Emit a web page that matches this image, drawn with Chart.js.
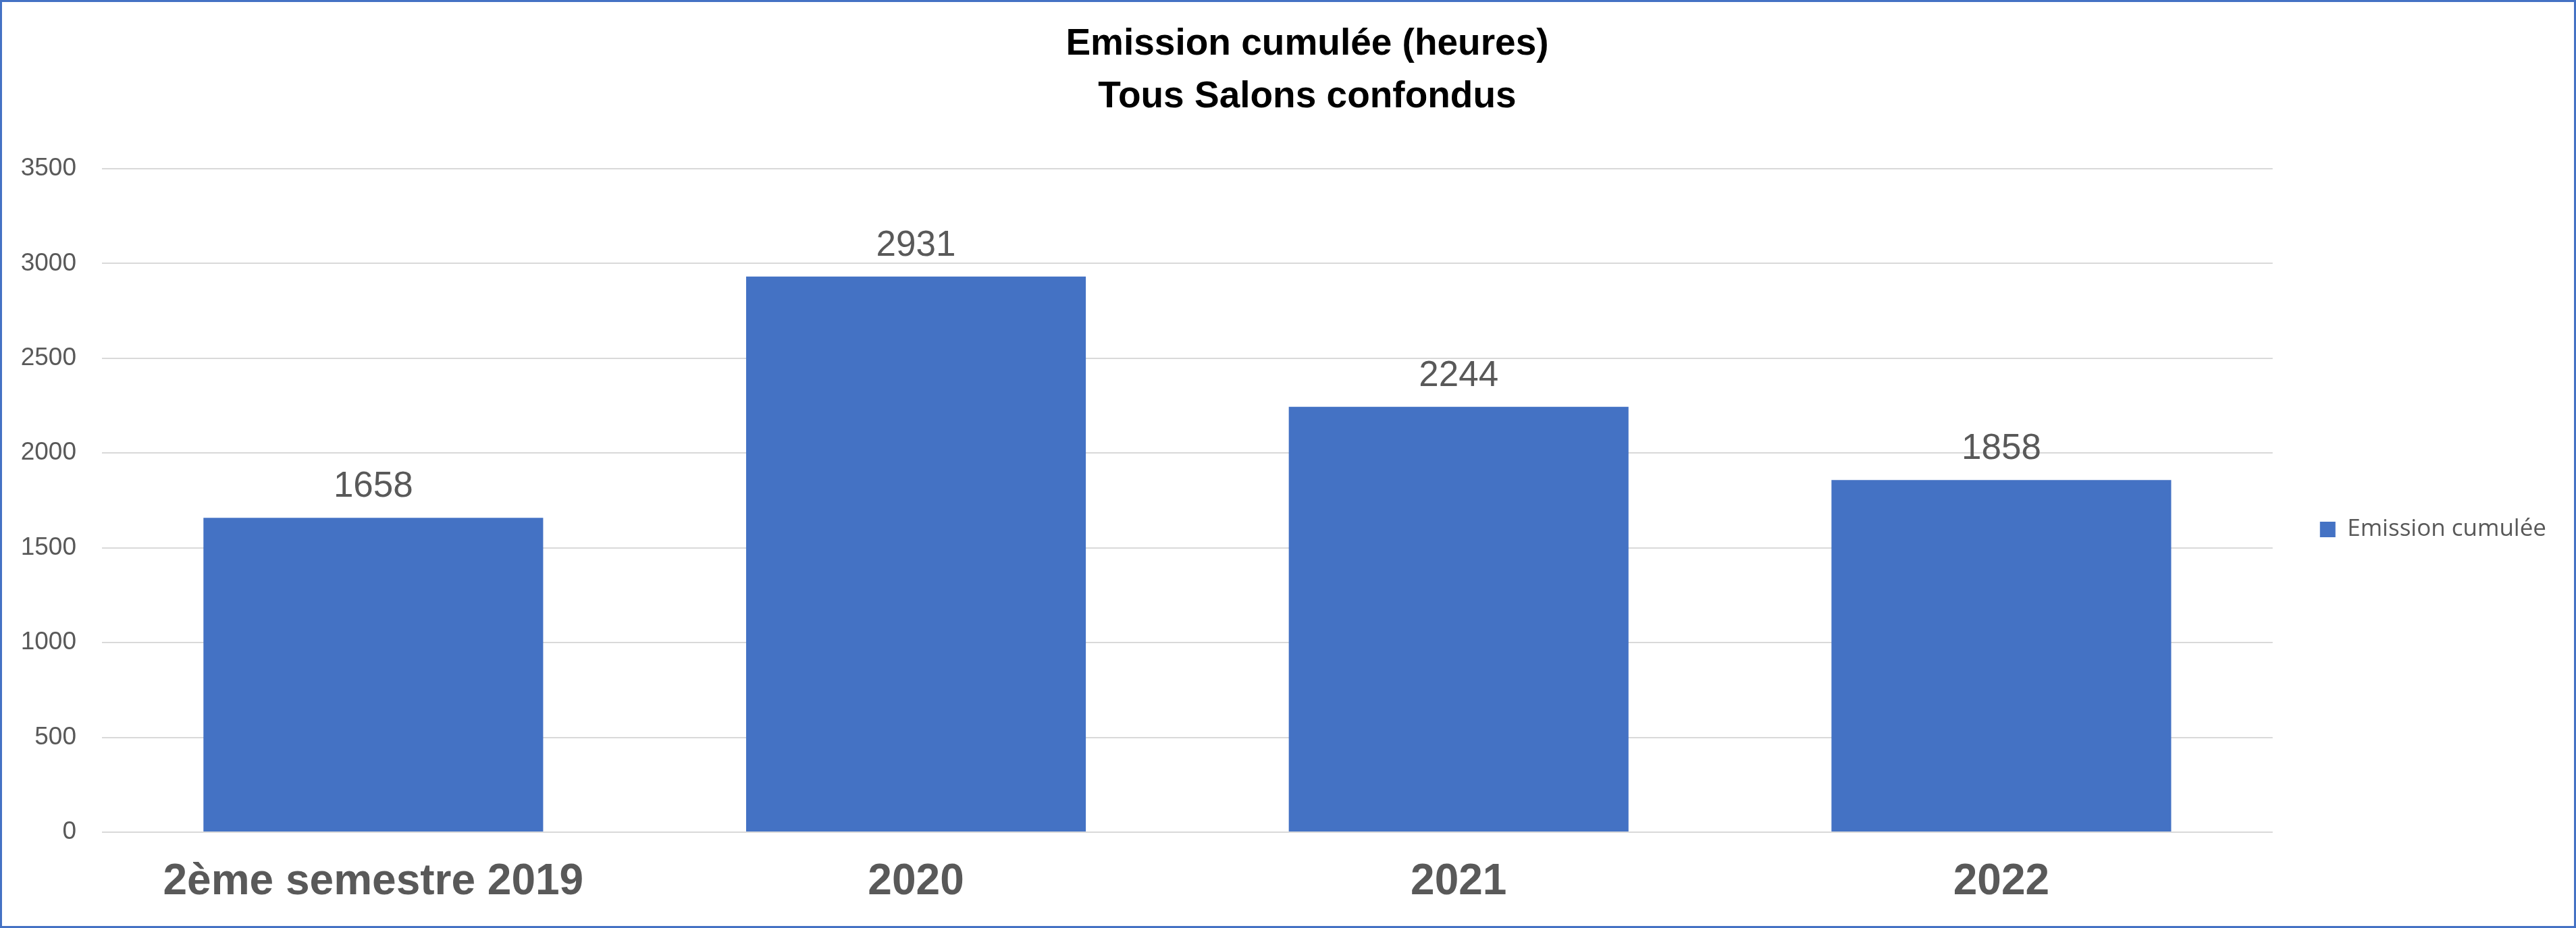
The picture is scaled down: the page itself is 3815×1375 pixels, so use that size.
<!DOCTYPE html>
<html>
<head>
<meta charset="utf-8">
<script src="https://cdn.jsdelivr.net/npm/chart.js@4/dist/chart.umd.min.js"></script>
<style>
  html, body { margin: 0; padding: 0; background: #ffffff; }
  #wrap { width: 3815px; height: 1375px; box-sizing: border-box; border: 3px solid #4472C4; background: #ffffff; }
  canvas { display: block; }
</style>
</head>
<body>
<div id="wrap"><canvas id="c" width="3809" height="1369"></canvas></div>
<script>
const categories = ['2ème semestre 2019', '2020', '2021', '2022'];
const emissionValues = [1658, 2931, 2244, 1858];
const seriesLabel = 'Emission cumulée';
const titleLines = ['Emission cumulée (heures)', 'Tous Salons confondus'];
const yTickMin = 0;
const yTickMax = 3500;
const yTickStep = 500;

const barLabels = {
  id: 'barLabels',
  afterDatasetsDraw(chart) {
    const ctx = chart.ctx;
    ctx.save();
    ctx.font = '53px "Liberation Sans", Arial, sans-serif';
    ctx.fillStyle = '#595959';
    ctx.textAlign = 'center';
    ctx.textBaseline = 'alphabetic';
    chart.data.datasets.forEach((ds, di) => {
      const meta = chart.getDatasetMeta(di);
      meta.data.forEach((el, i) => {
        ctx.fillText(String(ds.data[i]), el.x, el.y - 31);
      });
    });
    ctx.restore();
  }
};

const titleShift = {
  id: 'titleShift',
  afterLayout(chart) {
    const t = chart.titleBlock;
    if (t) { t.left += 70; }
  }
};

new Chart(document.getElementById('c'), {
  type: 'bar',
  data: {
    labels: categories,
    datasets: [{
      label: seriesLabel,
      data: emissionValues,
      backgroundColor: '#4472C4',
      borderWidth: 0,
      categoryPercentage: 1,
      barPercentage: 0.626
    }]
  },
  options: {
    responsive: false,
    animation: false,
    events: [],
    layout: { padding: { left: 18, right: 31, top: 0, bottom: 0 } },
    plugins: {
      title: {
        display: true,
        text: titleLines,
        color: '#000000',
        font: { family: '"Liberation Sans", Arial, sans-serif', size: 55, weight: 'bold', lineHeight: 1.418 },
        padding: { top: 24, bottom: 67 }
      },
      legend: {
        display: true,
        position: 'right',
        fullSize: false,
        align: 'center',
        title: { display: true, text: ' ', font: { size: 10, lineHeight: 1 }, padding: { top: 76, bottom: 0 } },
        labels: {
          boxWidth: 23,
          boxHeight: 23,
          padding: 70,
          color: '#595959',
          font: { family: '"Open Sans", sans-serif', size: 35 }
        }
      },
      tooltip: { enabled: false }
    },
    scales: {
      x: {
        grid: { display: false, drawTicks: false },
        border: { display: false },
        ticks: {
          color: '#595959',
          padding: 36,
          font: { family: '"Liberation Sans", Arial, sans-serif', size: 64, weight: 'bold', lineHeight: 1.2 }
        },
        afterFit(scale) { scale.height = 139; }
      },
      y: {
        min: yTickMin,
        max: yTickMax,
        grid: { color: '#D9D9D9', lineWidth: 2, drawTicks: false },
        border: { display: false },
        ticks: {
          stepSize: yTickStep,
          color: '#595959',
          padding: 38,
          font: { family: '"Liberation Sans", Arial, sans-serif', size: 37 },
          callback: (v) => String(v)
        },
        afterFit(scale) { scale.width = 130; }
      }
    }
  },
  plugins: [barLabels, titleShift]
});
</script>
</body>
</html>
